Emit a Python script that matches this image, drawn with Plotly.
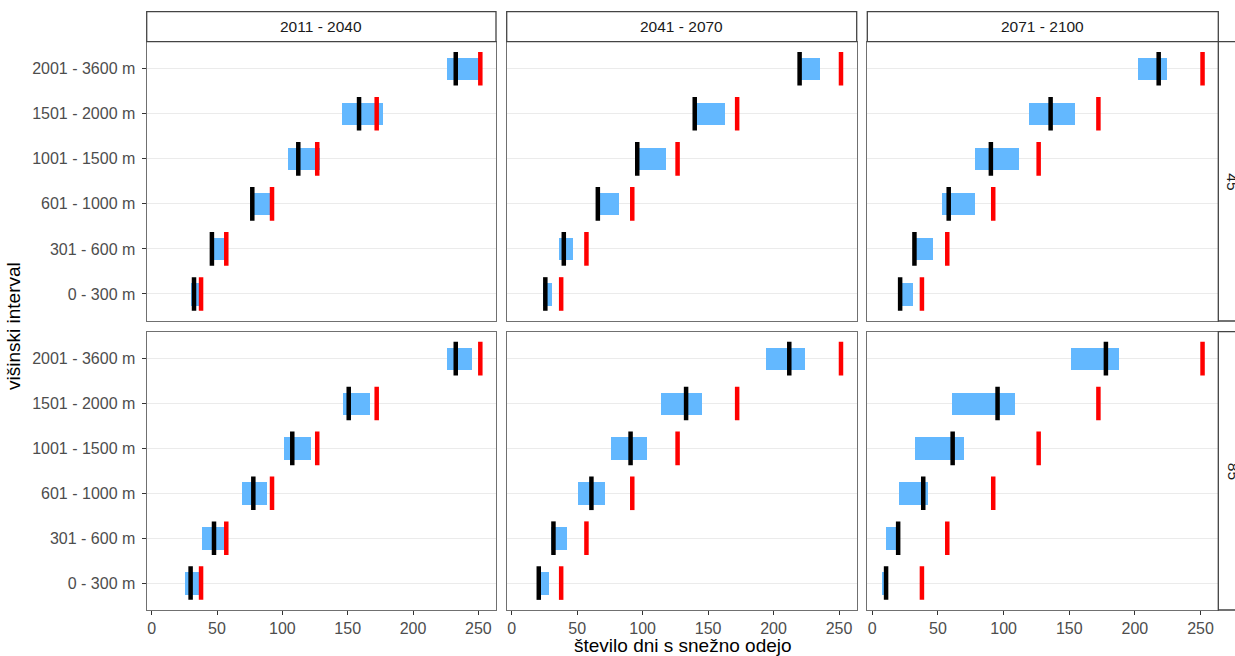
import plotly.graph_objects as go

W, H = 1235, 656

categories = ['0 - 300 m', '301 - 600 m', '601 - 1000 m', '1001 - 1500 m', '1501 - 2000 m', '2001 - 3600 m']
periods = ['2011 - 2040', '2041 - 2070', '2071 - 2100']
scenarios = ['45', '85']
x_ticks = [0, 50, 100, 150, 200, 250]

# reference period (red marks), same in every panel
reference = [37.8, 57.1, 92.1, 126.7, 172.2, 251.5]

# scenario 45
low_45_2011 = [30.1, 45.9, 74.7, 104.3, 145.4, 225.8]
high_45_2011 = [37.0, 56.9, 91.8, 128.8, 176.5, 250.0]
med_45_2011 = [32.4, 46.1, 77.0, 112.2, 158.7, 232.7]

low_45_2041 = [23.7, 35.7, 65.8, 95.9, 139.8, 219.9]
high_45_2041 = [30.6, 46.7, 81.6, 117.6, 162.5, 235.2]
med_45_2041 = [25.7, 39.8, 65.8, 95.9, 139.8, 219.9]

low_45_2071 = [21.4, 32.1, 53.3, 78.8, 119.4, 202.8]
high_45_2071 = [30.9, 46.2, 78.6, 112.3, 154.4, 224.8]
med_45_2071 = [21.2, 32.1, 58.2, 90.3, 135.8, 218.1]

# scenario 85
low_85_2011 = [25.3, 38.3, 69.1, 101.3, 146.2, 226.0]
high_85_2011 = [37.0, 56.1, 88.2, 121.9, 167.1, 244.6]
med_85_2011 = [29.8, 47.7, 77.8, 107.6, 150.8, 232.7]

low_85_2041 = [19.1, 29.6, 50.7, 76.0, 114.0, 193.9]
high_85_2041 = [28.5, 41.8, 71.2, 103.0, 145.1, 223.7]
med_85_2041 = [20.7, 31.9, 60.9, 90.8, 133.2, 212.0]

low_85_2071 = [7.4, 10.5, 20.2, 32.9, 60.7, 151.6]
high_85_2071 = [10.2, 19.9, 42.9, 70.4, 108.7, 188.0]
med_85_2071 = [10.5, 19.7, 38.8, 61.2, 95.4, 177.9]

panels = {
    ('45', 0): (low_45_2011, high_45_2011, med_45_2011),
    ('45', 1): (low_45_2041, high_45_2041, med_45_2041),
    ('45', 2): (low_45_2071, high_45_2071, med_45_2071),
    ('85', 0): (low_85_2011, high_85_2011, med_85_2011),
    ('85', 1): (low_85_2041, high_85_2041, med_85_2041),
    ('85', 2): (low_85_2071, high_85_2071, med_85_2071),
}

# layout geometry (page pixels)
col_px = [(146.7, 496.0), (506.7, 856.7), (867.3, 1218.3)]
row_px = [(41.7, 321.0), (331.7, 610.0)]
strip_top = 11.7

def px_x(p):
    return p / W

def px_y(p):
    return 1 - p / H

FONT = "Liberation Sans, Arial, sans-serif"
BLUE = '#63B8FF'
BORDER = '#707070'

fig = go.Figure()
layout = dict(
    width=W, height=H, margin=dict(l=0, r=0, t=0, b=0),
    paper_bgcolor='white', plot_bgcolor='white',
    showlegend=False, font=dict(family=FONT, color='#4D4D4D'),
    bargap=0,
)

for r, sc in enumerate(scenarios):
    for c in range(3):
        idx = r * 3 + c + 1
        xa = 'x' if idx == 1 else f'x{idx}'
        ya = 'y' if idx == 1 else f'y{idx}'
        low, high, med = panels[(sc, c)]
        fig.add_trace(go.Bar(
            orientation='h', y=categories, base=low,
            x=[h - l for h, l in zip(high, low)], width=0.5,
            marker=dict(color=BLUE, line=dict(width=0)),
            xaxis=xa, yaxis=ya, hoverinfo='skip'))
        fig.add_trace(go.Scatter(
            x=med, y=categories, mode='markers', xaxis=xa, yaxis=ya,
            marker=dict(symbol='line-ns', size=24, line=dict(width=4.5, color='black')),
            hoverinfo='skip'))
        fig.add_trace(go.Scatter(
            x=reference, y=categories, mode='markers', xaxis=xa, yaxis=ya,
            marker=dict(symbol='line-ns', size=24, line=dict(width=4.5, color='#FF0000')),
            hoverinfo='skip'))

        bottom = (r == 1)
        left = (c == 0)
        key_x = 'xaxis' if idx == 1 else f'xaxis{idx}'
        key_y = 'yaxis' if idx == 1 else f'yaxis{idx}'
        layout[key_x] = dict(
            domain=[px_x(col_px[c][0]), px_x(col_px[c][1])],
            anchor=ya, range=[-3.8, 263.5], tickvals=x_ticks,
            showticklabels=bottom, ticks='outside' if bottom else '',
            ticklen=4, tickwidth=1.2, tickcolor='#333333',
            tickfont=dict(size=16, color='#4D4D4D', family=FONT),
            showgrid=False, zeroline=False,
            showline=True, mirror=True, linecolor=BORDER, linewidth=1.3,
        )
        layout[key_y] = dict(
            domain=[px_y(row_px[r][1]), px_y(row_px[r][0])],
            anchor=xa, type='category', categoryorder='array',
            categoryarray=categories, range=[-0.6, 5.6],
            showticklabels=left, ticks='outside' if left else '',
            ticklen=4, tickwidth=1.2, tickcolor='#333333',
            ticklabelstandoff=3,
            tickfont=dict(size=16, color='#4D4D4D', family=FONT),
            showgrid=True, gridcolor='#EBEBEB', gridwidth=1.2, zeroline=False,
            showline=True, mirror=True, linecolor=BORDER, linewidth=1.3,
        )

shapes = []
annotations = []
# top strips
for c, per in enumerate(periods):
    x0, x1 = col_px[c]
    shapes.append(dict(type='rect', xref='paper', yref='paper',
                       x0=px_x(x0), x1=px_x(x1), y0=px_y(row_px[0][0]), y1=px_y(strip_top),
                       fillcolor='white', line=dict(color='#444444', width=1.3), layer='above'))
    annotations.append(dict(xref='paper', yref='paper', x=px_x((x0 + x1) / 2),
                            y=px_y((strip_top + row_px[0][0]) / 2), text=per, showarrow=False,
                            font=dict(size=15.5, color='#1A1A1A', family=FONT),
                            xanchor='center', yanchor='middle'))
# right strips (cut off at the right edge, as in the original)
for r, sc in enumerate(scenarios):
    y0, y1 = row_px[r]
    shapes.append(dict(type='rect', xref='paper', yref='paper',
                       x0=px_x(1218.3), x1=px_x(1260), y0=px_y(y1), y1=px_y(y0),
                       fillcolor='white', line=dict(color='#444444', width=1.3), layer='above'))
    annotations.append(dict(xref='paper', yref='paper', x=px_x(1233),
                            y=px_y((y0 + y1) / 2), text=sc, showarrow=False, textangle=90,
                            font=dict(size=15.5, color='#1A1A1A', family=FONT),
                            xanchor='center', yanchor='middle'))
# axis titles
annotations.append(dict(xref='paper', yref='paper', x=px_x(682.5), y=px_y(645),
                        text='število dni s snežno odejo', showarrow=False,
                        font=dict(size=19, color='black', family=FONT),
                        xanchor='center', yanchor='middle'))
annotations.append(dict(xref='paper', yref='paper', x=px_x(13), y=px_y(326),
                        text='višinski interval', showarrow=False, textangle=-90,
                        font=dict(size=19, color='black', family=FONT),
                        xanchor='center', yanchor='middle'))

layout['shapes'] = shapes
layout['annotations'] = annotations
fig.update_layout(**layout)

page_js = ("document.documentElement.style.margin='0';document.documentElement.style.overflow='hidden';"
           "document.body.style.margin='0';document.body.style.overflow='hidden';")
fig.write_html("out.html", post_script=page_js, config={'displayModeBar': False})
